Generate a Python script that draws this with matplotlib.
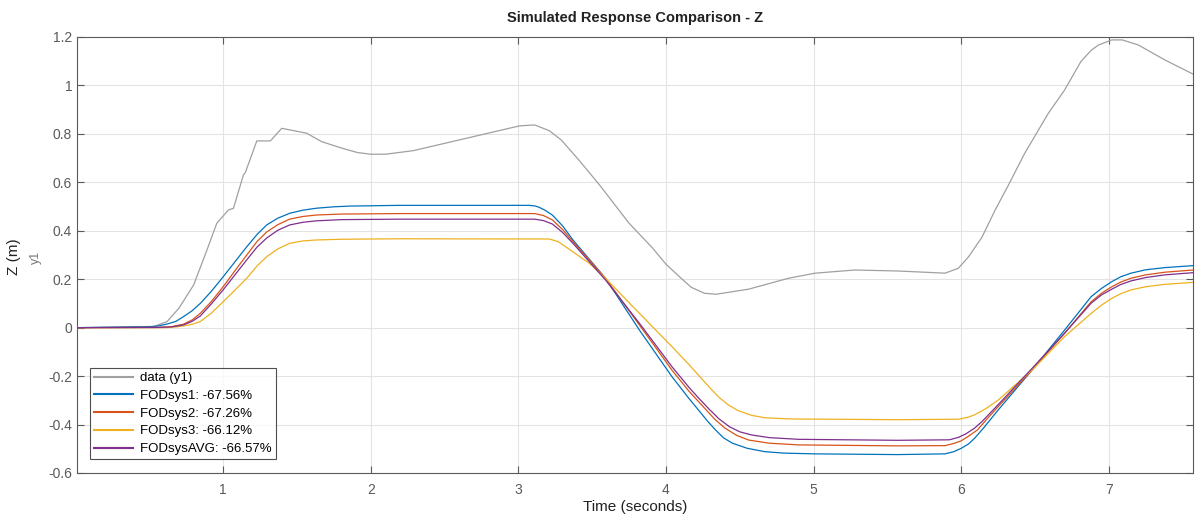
#!/usr/bin/env python

# Simulated response comparison for the Z channel: measured data vs. the
# three identified FOD systems and their average.
import matplotlib.pyplot as plt

# measured data (y1)
t_data = [0.01, 0.53, 0.62, 0.70, 0.80, 0.89, 0.957, 1.036, 1.07, 1.137, 1.15,
          1.228, 1.32, 1.397, 1.565, 1.667, 1.81, 1.91, 2.0, 2.1, 2.29, 2.62,
          3.007, 3.11, 3.21, 3.29, 3.41, 3.55, 3.75, 3.91, 4.0, 4.09, 4.17,
          4.26, 4.34, 4.56, 4.83, 5.01, 5.28, 5.57, 5.89, 5.98, 6.05, 6.14,
          6.23, 6.32, 6.43, 6.59, 6.70, 6.81, 6.88, 6.93, 7.02, 7.09, 7.2, 7.38, 7.57]
y_data = [0.0, 0.005, 0.025, 0.08, 0.176, 0.32, 0.431, 0.486, 0.493, 0.63, 0.64,
          0.771, 0.771, 0.823, 0.803, 0.768, 0.74, 0.723, 0.716, 0.716, 0.731, 0.778,
          0.833, 0.837, 0.813, 0.775, 0.692, 0.589, 0.431, 0.328, 0.262, 0.211, 0.167,
          0.142, 0.138, 0.159, 0.204, 0.225, 0.238, 0.234, 0.225, 0.245, 0.293, 0.373,
          0.486, 0.589, 0.72, 0.885, 0.981, 1.098, 1.145, 1.167, 1.188, 1.188, 1.167, 1.105, 1.047]

# FODsys1
t_s1 = [0.01, 0.507, 0.56, 0.62, 0.68, 0.73, 0.79, 0.845, 0.92, 1.0, 1.08, 1.16, 1.23,
        1.295, 1.37, 1.45, 1.54, 1.63, 1.75, 1.86, 2.196,
        3.07, 3.11, 3.14, 3.18, 3.23, 3.30, 3.37, 3.59, 3.82, 4.04, 4.155, 4.22, 4.28,
        4.335, 4.39, 4.45, 4.55, 4.67, 4.8, 5.01, 5.57,
        5.89, 5.95, 6.0, 6.05, 6.09, 6.15, 6.25, 6.48, 6.70, 6.88, 6.95, 7.02, 7.08,
        7.15, 7.25, 7.38, 7.57]
y_s1 = [0.0, 0.004, 0.007, 0.015, 0.026, 0.045, 0.07, 0.10, 0.15, 0.21, 0.272, 0.334, 0.385,
        0.424, 0.452, 0.472, 0.485, 0.493, 0.499, 0.502, 0.505,
        0.505, 0.503, 0.497, 0.485, 0.465, 0.42, 0.362, 0.204, -0.01, -0.202, -0.292, -0.34, -0.385,
        -0.422, -0.455, -0.477, -0.498, -0.512, -0.518, -0.521, -0.524,
        -0.521, -0.512, -0.498, -0.48, -0.457, -0.415, -0.34, -0.175, -0.01, 0.128, 0.162, 0.19, 0.21,
        0.225, 0.239, 0.248, 0.256]

# FODsys2
t_s2 = [0.01, 0.55, 0.65, 0.73, 0.79, 0.845, 0.92, 1.0, 1.08, 1.16, 1.23, 1.295, 1.37,
        1.45, 1.54, 1.63, 1.8, 2.196,
        3.11, 3.17, 3.23, 3.30, 3.37, 3.59, 3.82, 4.04, 4.155, 4.22, 4.27, 4.33, 4.40,
        4.48, 4.56, 4.7, 4.9, 5.57,
        5.89, 5.95, 6.0, 6.05, 6.11, 6.17, 6.25, 6.48, 6.70, 6.88, 6.95, 7.02, 7.08,
        7.15, 7.25, 7.38, 7.57]
y_s2 = [0.0, 0.001, 0.004, 0.014, 0.032, 0.059, 0.108, 0.169, 0.235, 0.30, 0.356, 0.395, 0.425,
        0.448, 0.459, 0.465, 0.469, 0.471,
        0.471, 0.463, 0.445, 0.405, 0.355, 0.204, 0.011, -0.175, -0.262, -0.305, -0.338, -0.378, -0.415,
        -0.445, -0.464, -0.477, -0.484, -0.488,
        -0.487, -0.478, -0.467, -0.448, -0.422, -0.38, -0.326, -0.175, -0.023, 0.107, 0.142, 0.169, 0.188,
        0.204, 0.218, 0.229, 0.238]

# FODsys3
t_s3 = [0.01, 0.6, 0.68, 0.73, 0.79, 0.845, 0.92, 1.0, 1.08, 1.16, 1.23, 1.295, 1.37,
        1.45, 1.54, 1.63, 1.8, 2.196,
        3.21, 3.27, 3.32, 3.40, 3.48, 3.59, 3.82, 4.04, 4.155, 4.23, 4.30, 4.36, 4.42,
        4.49, 4.58, 4.67, 4.85, 5.12, 5.57,
        5.98, 6.04, 6.09, 6.17, 6.25, 6.48, 6.70, 6.88, 6.95, 7.02, 7.08, 7.15, 7.25,
        7.38, 7.57]
y_s3 = [0.0, 0.0, 0.003, 0.007, 0.014, 0.025, 0.06, 0.107, 0.155, 0.204, 0.255, 0.293, 0.325,
        0.348, 0.358, 0.362, 0.365, 0.367,
        0.366, 0.355, 0.334, 0.30, 0.266, 0.204, 0.059, -0.078, -0.152, -0.203, -0.25, -0.288, -0.318,
        -0.343, -0.362, -0.372, -0.377, -0.378, -0.380,
        -0.378, -0.371, -0.36, -0.333, -0.299, -0.175, -0.037, 0.059, 0.093, 0.121, 0.14, 0.156, 0.169,
        0.179, 0.187]

# FODsysAVG
t_avg = [0.01, 0.56, 0.65, 0.73, 0.79, 0.845, 0.92, 1.0, 1.08, 1.16, 1.23, 1.295, 1.37,
         1.45, 1.54, 1.63, 1.8, 2.196,
         3.11, 3.17, 3.23, 3.30, 3.37, 3.59, 3.82, 4.04, 4.155, 4.22, 4.29, 4.36, 4.43,
         4.50, 4.58, 4.7, 4.9, 5.57,
         5.92, 5.98, 6.03, 6.09, 6.14, 6.25, 6.48, 6.70, 6.88, 6.95, 7.02, 7.08, 7.15,
         7.25, 7.38, 7.57]
y_avg = [0.0, 0.001, 0.003, 0.011, 0.026, 0.048, 0.098, 0.156, 0.218, 0.28, 0.333, 0.37, 0.402,
         0.424, 0.435, 0.441, 0.446, 0.448,
         0.448, 0.442, 0.428, 0.393, 0.348, 0.197, 0.018, -0.161, -0.246, -0.29, -0.335, -0.377, -0.409,
         -0.430, -0.443, -0.454, -0.461, -0.465,
         -0.463, -0.453, -0.439, -0.415, -0.388, -0.318, -0.168, -0.023, 0.101, 0.135, 0.159, 0.178, 0.193,
         0.207, 0.218, 0.227]

x_ticks = [1, 2, 3, 4, 5, 6, 7]
y_ticks = [-0.6, -0.4, -0.2, 0, 0.2, 0.4, 0.6, 0.8, 1, 1.2]
y_tick_labels = ["-0.6", "-0.4", "-0.2", "0", "0.2", "0.4", "0.6", "0.8", "1", "1.2"]

plt.rcParams["font.family"] = ["Liberation Sans", "DejaVu Sans"]

fig = plt.figure(figsize=(11.95, 5.17), dpi=100)
ax = fig.add_axes([77 / 1195, 1 - 473 / 517, 1116 / 1195, 436 / 517])

ax.plot(t_data, y_data, color="#a0a0a0", lw=0.9, label="data (y1)")
ax.plot(t_s1, y_s1, color="#0072BD", lw=0.9, label="FODsys1: -67.56%")
ax.plot(t_s2, y_s2, color="#D95319", lw=0.9, label="FODsys2: -67.26%")
ax.plot(t_s3, y_s3, color="#EDB120", lw=0.9, label="FODsys3: -66.12%")
ax.plot(t_avg, y_avg, color="#7E2F8E", lw=0.9, label="FODsysAVG: -66.57%")

ax.set_xlim(0.01, 7.57)
ax.set_ylim(-0.6, 1.2)
ax.set_xticks(x_ticks)
ax.set_yticks(y_ticks)
ax.set_yticklabels(y_tick_labels)
ax.tick_params(direction="in", top=True, right=True, length=5, width=0.8,
               colors="#5a5a5a", labelsize=10, labelcolor="#5a5a5a")
ax.tick_params(axis="x", pad=7)
for s in ax.spines.values():
    s.set_color("#5a5a5a")
    s.set_linewidth(0.8)
ax.grid(True, color="#e3e3e3", lw=0.8)
ax.set_axisbelow(True)

ax.set_title("Simulated Response Comparison - Z", fontsize=10.5, fontweight="bold",
             color="#222222", pad=11)
ax.set_xlabel("Time (seconds)", fontsize=11, color="#222222", labelpad=2)
fig.text(14 / 1195, 1 - 257 / 517, "Z (m)", rotation=90, fontsize=11,
         color="#222222", ha="center", va="center")
fig.text(36 / 1195, 1 - 257 / 517, "y1", rotation=90, fontsize=9,
         color="#777777", ha="center", va="center")

leg = ax.legend(loc="upper left", bbox_to_anchor=(0.0116, 0.241), borderaxespad=0,
                fontsize=9.5, frameon=True, fancybox=False, handlelength=3.0,
                handletextpad=0.5, labelspacing=0.42, borderpad=0.3)
leg.get_frame().set_edgecolor("#222222")
leg.get_frame().set_linewidth(0.8)
for line in leg.get_lines():
    line.set_linewidth(1.5)

plt.savefig("out.png", dpi=100)
